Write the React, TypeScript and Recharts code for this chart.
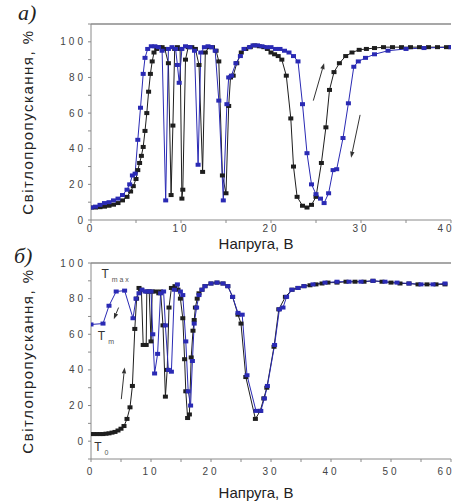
import { LineChart, Line, XAxis, YAxis, ReferenceLine, ReferenceDot } from 'recharts';

// voltage (V), transmission (%) pairs
const topUp: [number, number][] = [
  [0, 7], [0.5, 7], [1, 7.2], [1.5, 7.5], [2, 8], [2.5, 8.6], [3, 9.5], [3.5, 11], [4, 13], [4.4, 16],
  [4.7, 19], [5.0, 23], [5.2, 28], [5.4, 32], [5.6, 36], [5.8, 41], [6.0, 50], [6.2, 60], [6.4, 72], [6.6, 82],
  [6.8, 89], [7.0, 94], [7.3, 96], [7.6, 97], [7.9, 97], [8.2, 96], [8.6, 88], [8.9, 14], [9.1, 53], [9.3, 96],
  [9.6, 97], [9.9, 96], [10.1, 12], [10.2, 17], [10.5, 90], [10.8, 97], [11.2, 97], [11.6, 96], [12.0, 87], [12.4, 27],
  [12.7, 94], [13.1, 97], [13.5, 97], [13.9, 95], [14.2, 89], [14.6, 25], [15.0, 15], [15.3, 64], [15.5, 80], [15.8, 81],
  [16.2, 88], [16.7, 94], [17.2, 96], [17.7, 97], [18.2, 98], [18.7, 97.5], [19.2, 97], [19.6, 96], [20.0, 94], [20.4, 93],
  [20.8, 92], [21.2, 90], [21.7, 81], [22.2, 57], [22.5, 30], [22.9, 13], [23.5, 8], [24.0, 7], [24.5, 8.5], [25.0, 13],
  [25.6, 32], [26.1, 52], [26.5, 73], [27.0, 83], [27.6, 88], [28.3, 92], [29.0, 94], [29.8, 95.5], [30.6, 96], [31.5, 96.5],
  [32.5, 97], [33.5, 97], [34.5, 97], [35.5, 97], [36.5, 97], [37.5, 97], [38.5, 97], [39.5, 97], [40, 97],
];

const topDown: [number, number][] = [
  [0, 7], [0.5, 7.5], [1, 8.5], [1.5, 9.5], [2, 10], [2.5, 11], [3, 12], [3.5, 14], [4, 17], [4.3, 20],
  [4.6, 25], [4.9, 26], [5.2, 45], [5.5, 63], [5.8, 82], [6.0, 91], [6.3, 96], [6.7, 97.5], [7.1, 97.5], [7.5, 97],
  [7.9, 95], [8.3, 11], [8.6, 96], [9.0, 97], [9.4, 96], [9.6, 87], [9.8, 77], [10.1, 96], [10.5, 97.5], [11.0, 97],
  [11.5, 95], [11.9, 31], [12.2, 94], [12.6, 97], [13.0, 97.5], [13.4, 97], [13.8, 95], [14.2, 67], [14.7, 11], [15.1, 65],
  [15.3, 80], [15.6, 81], [16.1, 88], [16.6, 92], [17.0, 96], [17.6, 97], [18.0, 98], [18.5, 98], [19.0, 97.5], [19.5, 97],
  [20.0, 97], [20.5, 96], [21.0, 96], [21.5, 95], [22.0, 94], [22.5, 92], [23.0, 89], [23.5, 65], [24.0, 37.5], [24.5, 20],
  [25.0, 14.5], [25.5, 12], [25.9, 9.5], [26.4, 15], [26.9, 28], [27.3, 28.5], [28.0, 46], [28.6, 65.5], [29.2, 86], [29.7, 89],
  [30.5, 91], [31.5, 93], [33, 95], [35, 96], [37, 96.5], [40, 97],
];

const bottomUp: [number, number][] = [
  [0, 4], [0.5, 4], [1, 4], [1.5, 4], [2, 4], [2.5, 4.2], [3, 4.4], [3.5, 4.8], [4, 5.2], [4.5, 6],
  [5, 7], [5.5, 8.5], [6.0, 12.5], [6.5, 19], [6.9, 31], [7.3, 63], [7.6, 80], [8.0, 86], [8.4, 85], [8.7, 54],
  [9.2, 54], [9.3, 84], [9.7, 84], [10.0, 56], [10.2, 84], [10.8, 84], [11.3, 83], [11.6, 84], [12.0, 65], [12.4, 25],
  [12.7, 40], [13.0, 75], [13.4, 86], [14.0, 87], [14.5, 85], [14.9, 80], [15.3, 69], [15.6, 46], [15.8, 28], [16.1, 13],
  [16.4, 15], [16.7, 47], [17.0, 62], [17.2, 68], [17.4, 75], [17.7, 80], [18.0, 83], [18.5, 85], [19, 87], [20, 88.5],
  [21, 89], [22, 88.5], [22.8, 87], [23.6, 81], [24.5, 71], [25.0, 66], [25.8, 36], [27.4, 12.5], [28.2, 17], [28.8, 24],
  [29.3, 30], [30.5, 53], [31.3, 74], [32.4, 81], [33.5, 85], [34.5, 86], [35.5, 87], [36.5, 87.5], [37.5, 88], [38.5, 88.5],
  [39.5, 89], [41, 89], [42.5, 89.5], [44, 89.5], [45.5, 89.5], [47, 90], [48.5, 89.5], [50, 89], [51.5, 88.5], [53, 88.5],
  [54.5, 88], [56, 88], [57.5, 88], [59, 88],
];

const bottomDown: [number, number][] = [
  [0, 65.5], [2, 66], [3, 76], [4.2, 84], [5.6, 84.5], [7.0, 69], [7.5, 80], [8.0, 83], [8.5, 85], [9.0, 84],
  [9.5, 84], [10.0, 84], [10.3, 60], [10.6, 38], [11.1, 49], [11.6, 83], [12.1, 84], [12.4, 65], [12.9, 40], [13.4, 39],
  [13.9, 85], [14.4, 88], [14.9, 84], [15.3, 82], [15.8, 56], [16.2, 28], [16.6, 20], [16.9, 45], [17.2, 66], [17.6, 75],
  [18.0, 82], [18.5, 85], [19, 87], [20, 88.5], [21, 89], [22, 88.5], [22.8, 87], [23.6, 81], [24.5, 72], [25.2, 71],
  [26.0, 37], [27.5, 17], [28.3, 17], [28.9, 24], [29.4, 31], [30.6, 54], [31.4, 74], [32.0, 75], [32.6, 81], [33.5, 85],
  [34.5, 86], [35.5, 87], [37, 88], [39, 89], [41, 89.5], [43, 89.5], [45, 89.5], [47, 90], [49, 89.5], [51, 89],
  [53, 88.5], [55, 88], [57, 88], [59, 88.5],
];

const topXTicks = [0, 5, 10, 15, 20, 25, 30, 35, 40];
const bottomXTicks = [0, 5, 10, 15, 20, 25, 30, 35, 40, 45, 50, 55, 60];
const topYTicks = [0, 10, 20, 30, 40, 50, 60, 70, 80, 90, 100, 110];
const bottomYTicks = [-10, 0, 10, 20, 30, 40, 50, 60, 70, 80, 90, 100];

// arrows: [from, to], head at "to"
const topArrows: [number, number][][] = [
  [[24.7, 67], [25.9, 88]],
  [[29.9, 59], [28.9, 35]],
];
const bottomArrows: [number, number][][] = [
  [[5.05, 23.6], [5.6, 41.4]],
  [[4.6, 75], [3.8, 68.5]],
];
const bottomMarks = [
  { v: 2.4, t: 93.8, sub: 'm a x' },
  { v: 1.8, t: 59.2, sub: 'm' },
  { v: 1.2, t: -3.4, sub: '0' },
];

const FONT = '"Liberation Sans", Arial, sans-serif';
const BLACK = '#1e1e1e';
const BLUE = '#2a2ab4';
const AXIS = '#8a8a8a';

const toRows = (pts: [number, number][]) => pts.map(([v, t]) => ({ v, t }));

const squareDot = (color: string) => (p: any) => (
  <rect key={`d-${p.index}`} x={p.cx - 2.5} y={p.cy - 2} width={5} height={4} fill={color} />
);

const Arrow = (p: any) => {
  const { x1, y1, x2, y2 } = p;
  const a = Math.atan2(y2 - y1, x2 - x1);
  const L = 6;
  const W = 2.2;
  const bx = x2 - L * Math.cos(a);
  const by = y2 - L * Math.sin(a);
  const pts = `${x2},${y2} ${bx + W * Math.sin(a)},${by - W * Math.cos(a)} ${bx - W * Math.sin(a)},${by + W * Math.cos(a)}`;
  return (
    <g>
      <line x1={x1} y1={y1} x2={bx} y2={by} stroke="#333" strokeWidth={1} />
      <polygon points={pts} fill="#333" />
    </g>
  );
};

const tLabel = (sub: string) => (p: any) => (
  <text x={p.cx - 4} y={p.cy} fontFamily={FONT} fontSize={12} fill="#333" textAnchor="start" dominantBaseline="central">
    T
    <tspan fontSize={7} dx={3} dy={5} fill="#555">{sub}</tspan>
  </text>
);

const tickStyle = { fontSize: 10, fill: '#444', fontFamily: FONT, letterSpacing: 3 };
const even10 = (v: number) => (v % 10 === 0 ? String(v) : '');
const even20 = (v: number) => (v % 20 === 0 ? String(v) : '');

const axisTitle = { fontSize: 15, fill: '#222', fontFamily: FONT };

function Panel({
  up, down, xMax, xTicks, yDomain, yTicks, height, top, bottom, xHeight, titleOffset, tickGap, children,
}: any) {
  return (
    <LineChart width={454} height={height} margin={{ top, right: 3, left: 0, bottom }}>
      <XAxis
        type="number"
        dataKey="v"
        domain={[0, xMax]}
        ticks={xTicks}
        tickFormatter={even10}
        tick={tickStyle}
        tickSize={3}
        tickMargin={tickGap}
        height={xHeight}
        stroke={AXIS}
        allowDataOverflow
        label={{ value: 'Напруга, В', position: 'insideBottom', offset: titleOffset, dx: -15, style: axisTitle }}
      />
      <YAxis
        type="number"
        domain={yDomain}
        ticks={yTicks}
        tickFormatter={even20}
        tick={tickStyle}
        tickSize={3}
        width={91}
        stroke={AXIS}
        allowDataOverflow
        label={{
          value: 'Світлопропускання, %',
          angle: -90,
          position: 'insideLeft',
          offset: 28,
          style: { ...axisTitle, textAnchor: 'middle', letterSpacing: 1.5 },
        }}
      />
      <ReferenceLine y={yDomain[1]} stroke={AXIS} strokeWidth={1.5} />
      <Line data={toRows(up)} dataKey="t" stroke={BLACK} strokeWidth={1} dot={squareDot(BLACK)} isAnimationActive={false} />
      <Line data={toRows(down)} dataKey="t" stroke={BLUE} strokeWidth={1} dot={squareDot(BLUE)} isAnimationActive={false} />
      {children}
    </LineChart>
  );
}

export default function App() {
  return (
    <div style={{ position: 'absolute', left: 0, top: 0, width: 454, height: 504, background: '#fff' }}>
      <div style={{ position: 'absolute', left: 0, top: 0 }}>
        <Panel up={topUp} down={topDown} xMax={40} xTicks={topXTicks} yDomain={[0, 110]} yTicks={topYTicks}
          height={256} top={24} bottom={4} xHeight={32} titleOffset={3} tickGap={2}>
          {topArrows.map(([a, b], i) => (
            <ReferenceLine key={`ta${i}`} segment={[{ x: a[0], y: a[1] }, { x: b[0], y: b[1] }]} shape={Arrow} />
          ))}
        </Panel>
      </div>
      <div style={{ position: 'absolute', left: 0, top: 252 }}>
        <Panel up={bottomUp} down={bottomDown} xMax={60} xTicks={bottomXTicks} yDomain={[-10, 100]} yTicks={bottomYTicks}
          height={252} top={11} bottom={5} xHeight={40} titleOffset={1} tickGap={6}>
          {bottomArrows.map(([a, b], i) => (
            <ReferenceLine key={`ba${i}`} segment={[{ x: a[0], y: a[1] }, { x: b[0], y: b[1] }]} shape={Arrow} />
          ))}
          {bottomMarks.map((m) => (
            <ReferenceDot key={m.sub} x={m.v} y={m.t} r={0} shape={tLabel(m.sub)} />
          ))}
        </Panel>
      </div>
      <span style={{ position: 'absolute', left: 18, top: 0, fontFamily: '"Liberation Serif", serif', fontStyle: 'italic', fontSize: 22, color: '#222' }}>а)</span>
      <span style={{ position: 'absolute', left: 14, top: 243, fontFamily: '"Liberation Serif", serif', fontStyle: 'italic', fontSize: 22, color: '#222' }}>б)</span>
    </div>
  );
}
